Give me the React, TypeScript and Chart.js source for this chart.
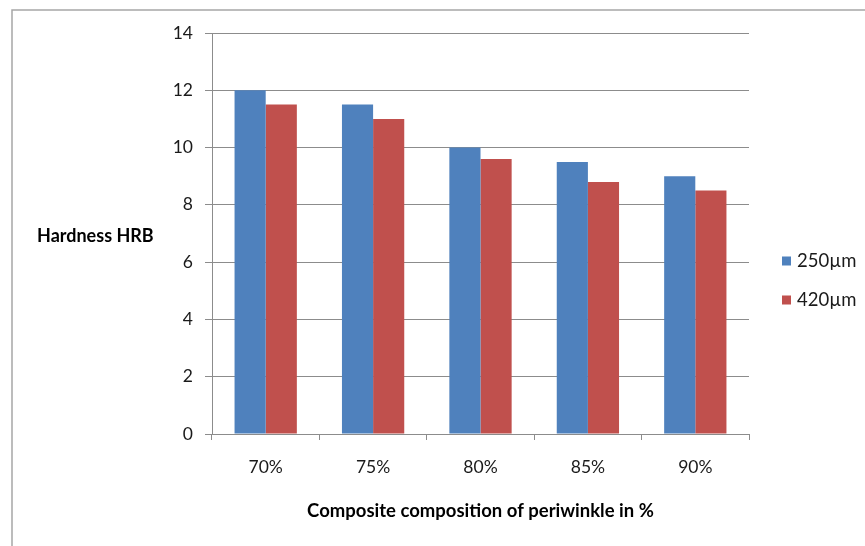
import React, { useEffect, useRef } from "react";
import { Chart, registerables } from "chart.js";

Chart.register(...registerables);

// Periwinkle composite hardness by composition and particle size
const categories = ["70%", "75%", "80%", "85%", "90%"];
const series250 = [12, 11.5, 10, 9.5, 9];
const series420 = [11.5, 11, 9.6, 8.8, 8.5];
const seriesLabels = ["250µm", "420µm"];
const yTicks = [0, 2, 4, 6, 8, 10, 12, 14];

const BLUE = "#4F81BD";
const RED = "#C0504D";
const GRID = "#8C8C8C";
const FONT = "Lato, 'Liberation Sans', sans-serif";

const W = 865;
const H = 546;

// Frame, y-axis title, x-axis title and legend drawn around the plot
const decorations = {
  id: "decorations",
  beforeDraw(chart: any) {
    const ctx = chart.ctx;
    ctx.save();
    ctx.fillStyle = "#ffffff";
    ctx.fillRect(0, 0, W, H);
    ctx.strokeStyle = "#A6A6A6";
    ctx.lineWidth = 1.5;
    ctx.beginPath();
    ctx.moveTo(12, H + 5);
    ctx.lineTo(12, 10);
    ctx.lineTo(W + 5, 10);
    ctx.stroke();
    ctx.restore();
  },
  afterDraw(chart: any) {
    const ctx = chart.ctx;
    const area = chart.chartArea;
    ctx.save();
    ctx.fillStyle = "#000000";
    ctx.font = `bold 18px ${FONT}`;
    ctx.textBaseline = "middle";
    ctx.textAlign = "left";
    ctx.fillText("Hardness HRB", 37, 236);

    ctx.textAlign = "center";
    ctx.font = `bold 18.5px ${FONT}`;
    ctx.fillText(
      "Composite composition of periwinkle in %",
      (area.left + area.right) / 2,
      511
    );

    // legend
    const colors = [BLUE, RED];
    ctx.font = `18.5px ${FONT}`;
    ctx.textAlign = "left";
    seriesLabels.forEach((label, i) => {
      const cy = 261 + i * 39;
      ctx.fillStyle = colors[i];
      ctx.fillRect(782, cy - 4.5, 9, 9);
      ctx.fillStyle = "#1a1a1a";
      ctx.fillText(label, 797, cy);
    });
    ctx.restore();
  },
};

export default function App() {
  const ref = useRef<HTMLCanvasElement | null>(null);

  useEffect(() => {
    if (!ref.current) return;
    const chart = new Chart(ref.current, {
      type: "bar",
      data: {
        labels: categories,
        datasets: [
          {
            label: seriesLabels[0],
            data: series250,
            backgroundColor: BLUE,
            categoryPercentage: 0.58,
            barPercentage: 1,
          },
          {
            label: seriesLabels[1],
            data: series420,
            backgroundColor: RED,
            categoryPercentage: 0.58,
            barPercentage: 1,
          },
        ],
      },
      options: {
        responsive: false,
        animation: false,
        devicePixelRatio: 1,
        layout: { padding: { left: 0, right: W - 749, top: 33, bottom: 0 } },
        plugins: {
          legend: { display: false },
          tooltip: { enabled: false },
        },
        scales: {
          x: {
            grid: {
              offset: true,
              drawOnChartArea: false,
              drawTicks: true,
              tickLength: 6,
              color: GRID,
            },
            border: { color: GRID, width: 1 },
            ticks: {
              color: "#1a1a1a",
              font: { family: FONT, size: 17.5 },
              padding: 17,
            },
            afterFit: (scale: any) => {
              scale.height = H - 434;
            },
          },
          y: {
            min: 0,
            max: 14,
            afterBuildTicks: (scale: any) => {
              scale.ticks = yTicks.map((v) => ({ value: v }));
            },
            grid: {
              color: GRID,
              tickLength: 7,
            },
            border: { color: GRID, width: 1 },
            ticks: {
              color: "#1a1a1a",
              font: { family: FONT, size: 17.5 },
              padding: 12,
            },
            afterFit: (scale: any) => {
              scale.width = 212;
            },
          },
        },
      },
      plugins: [decorations],
    });
    return () => chart.destroy();
  }, []);

  return (
    <div style={{ position: "absolute", left: 0, top: 0, width: W, height: H, background: "#fff" }}>
      <canvas ref={ref} width={W} height={H} style={{ display: "block" }} />
    </div>
  );
}
